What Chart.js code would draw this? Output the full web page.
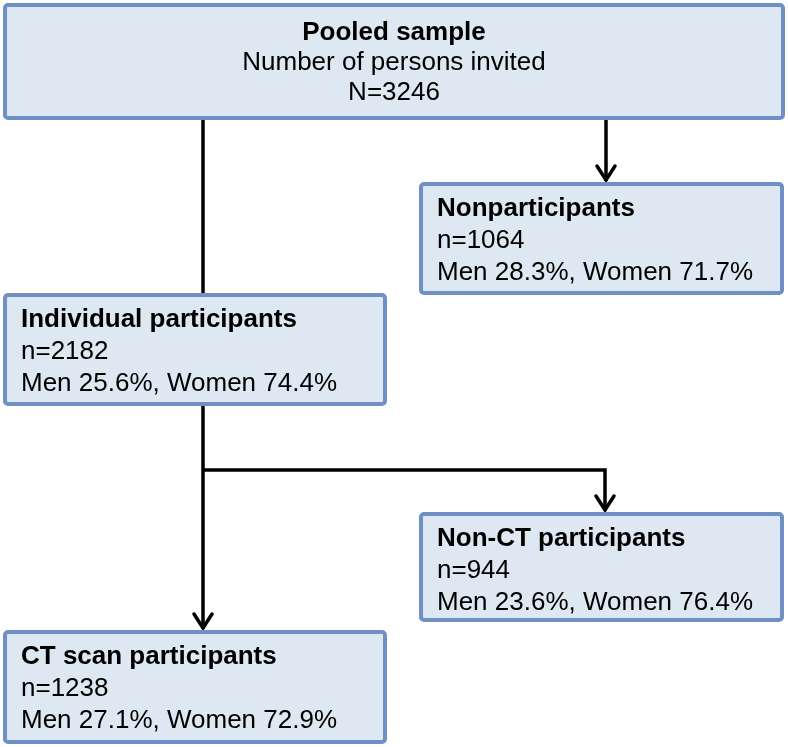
<!DOCTYPE html>
<html>
<head>
<meta charset="utf-8">
<script src="https://cdn.jsdelivr.net/npm/chart.js@4/dist/chart.umd.min.js"></script>
<style>
    html, body { margin: 0; padding: 0; background: #ffffff; }
    #flowChart { display: block; }
</style>
</head>
<body>
<canvas id="flowChart" width="788" height="747"></canvas>
<script>
// flow data
const boxTitles = ['Pooled sample', 'Nonparticipants', 'Individual participants', 'Non-CT participants', 'CT scan participants'];
const boxCounts = [3246, 1064, 2182, 944, 1238];
const menShare = [null, 28.3, 25.6, 23.6, 27.1];
const womenShare = [null, 71.7, 74.4, 76.4, 72.9];
const topSubtitle = 'Number of persons invited';

// layout in diagram units (0..788 across, 0..747 down)
const boxLeft = [5, 421, 5, 421, 5];
const boxRight = [783, 782, 385, 782, 385];
const boxTop = [5, 184, 295, 514, 632];
const boxBottom = [118, 293, 404, 620, 742];

// connectors: [x, y] pairs, last point gets an arrowhead when arrow is true
const links = [
    { pts: [[203, 120], [203, 293]], arrow: false },
    { pts: [[606, 120], [606, 181]], arrow: true },
    { pts: [[203, 406], [203, 629]], arrow: true },
    { pts: [[203, 470], [605, 470], [605, 511]], arrow: true }
];

const borderColor = '#6f8fc5';
const fillColor = '#dee8f2';
const fontFamily = '"Liberation Sans", Arial, sans-serif';

function boxLines(i) {
    if (i === 0) {
        return [boxTitles[i], topSubtitle, 'N=' + boxCounts[i]];
    }
    return [
        boxTitles[i],
        'n=' + boxCounts[i],
        'Men ' + menShare[i].toFixed(1) + '%, Women ' + womenShare[i].toFixed(1) + '%'
    ];
}

const boxPlugin = {
    id: 'flowBoxes',
    afterDatasetsDraw(chart) {
        const ctx = chart.ctx;
        const xs = chart.scales.x;
        const ys = chart.scales.y;

        // arrowheads
        ctx.save();
        ctx.strokeStyle = '#000000';
        ctx.lineWidth = 3.5;
        ctx.lineCap = 'round';
        ctx.lineJoin = 'miter';
        links.forEach(link => {
            if (!link.arrow) return;
            const p = link.pts[link.pts.length - 1];
            const tx = xs.getPixelForValue(p[0]);
            const ty = ys.getPixelForValue(p[1]) - 1;
            ctx.beginPath();
            ctx.moveTo(tx - 9, ty - 14);
            ctx.lineTo(tx, ty);
            ctx.lineTo(tx + 9, ty - 14);
            ctx.stroke();
        });
        ctx.restore();

        // boxes
        boxTitles.forEach((title, i) => {
            const x0 = xs.getPixelForValue(boxLeft[i]);
            const x1 = xs.getPixelForValue(boxRight[i]);
            const y0 = ys.getPixelForValue(boxTop[i]);
            const y1 = ys.getPixelForValue(boxBottom[i]);

            ctx.save();
            ctx.beginPath();
            ctx.roundRect(x0, y0, x1 - x0, y1 - y0, 3);
            ctx.fillStyle = fillColor;
            ctx.fill();
            ctx.lineWidth = 4;
            ctx.strokeStyle = borderColor;
            ctx.stroke();

            ctx.fillStyle = '#000000';
            ctx.textBaseline = 'alphabetic';
            const lines = boxLines(i);
            const centred = i === 0;
            const firstBase = i === 0 ? y0 + 35 : y0 + 32;
            const step = i === 0 ? 30 : 32;
            lines.forEach((txt, k) => {
                ctx.font = (k === 0 ? 'bold ' : '') + '26px ' + fontFamily;
                ctx.textAlign = centred ? 'center' : 'left';
                const tx = centred ? (x0 + x1) / 2 : x0 + 16;
                ctx.fillText(txt, tx, firstBase + k * step);
            });
            ctx.restore();
        });
    }
};

const linkSets = links.map(link => ({
    data: link.pts.map(p => ({ x: p[0], y: p[1] })),
    showLine: true,
    borderColor: '#000000',
    borderWidth: 3.5,
    pointRadius: 0,
    fill: false,
    tension: 0
}));

new Chart(document.getElementById('flowChart'), {
    type: 'scatter',
    data: { datasets: linkSets },
    options: {
        responsive: false,
        animation: false,
        events: [],
        layout: { padding: 0 },
        plugins: {
            legend: { display: false },
            tooltip: { enabled: false }
        },
        scales: {
            x: { type: 'linear', min: 0, max: 788, display: false },
            y: { type: 'linear', min: 0, max: 747, reverse: true, display: false }
        }
    },
    plugins: [boxPlugin]
});
</script>
</body>
</html>
